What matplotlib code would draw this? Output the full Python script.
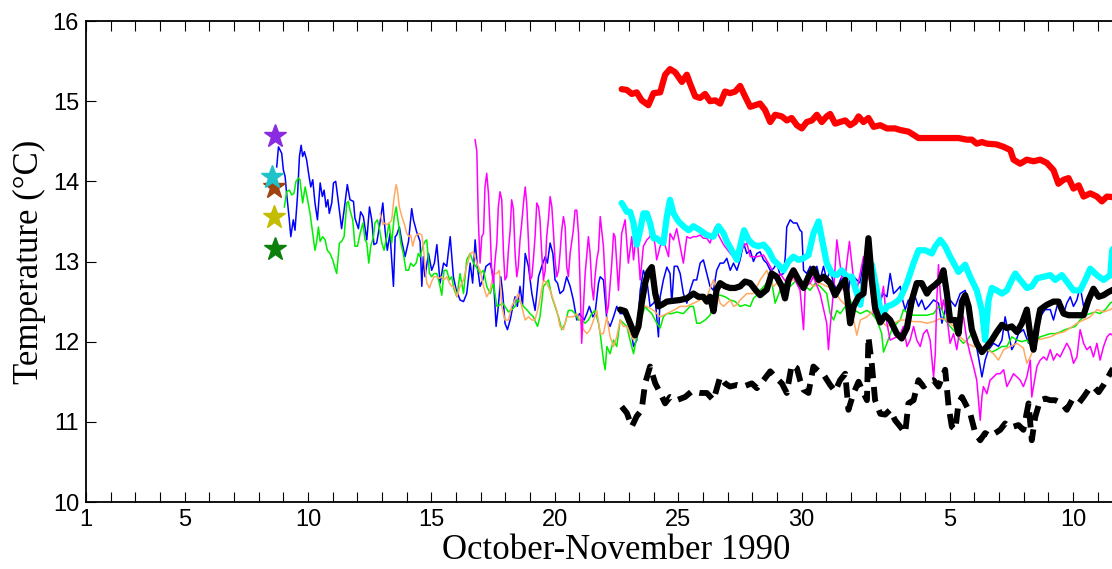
import numpy as np
import matplotlib.pyplot as plt

# thin records (day of Oct 1990, temperature degC)
blue = [(8.73, 14.18), (8.80, 14.43), (8.93, 14.35), (9.00, 14.14), (9.07, 14.06), (9.13, 13.85), (9.24, 13.52),
        (9.30, 13.31), (9.40, 13.52), (9.47, 13.39), (9.57, 13.81), (9.65, 14.31), (9.72, 14.45), (9.78, 14.31),
        (9.85, 14.37), (9.94, 14.27), (10.04, 14.06), (10.11, 13.93), (10.19, 14.02), (10.28, 13.73), (10.38, 13.52),
        (10.49, 13.98), (10.58, 13.81), (10.65, 13.89), (10.73, 13.68), (10.80, 13.77), (10.86, 13.60), (10.96, 13.73),
        (11.03, 13.98), (11.12, 14.00), (11.20, 13.81), (11.30, 13.56), (11.36, 13.41), (11.46, 13.64), (11.59, 13.96),
        (11.70, 13.77), (11.84, 13.75), (11.90, 13.54), (12.04, 13.41), (12.13, 13.62), (12.24, 13.56), (12.38, 13.27),
        (12.49, 13.68), (12.58, 13.52), (12.67, 13.21), (12.78, 13.23), (12.89, 13.43), (13.03, 13.73), (13.12, 13.39),
        (13.21, 13.14), (13.32, 13.35), (13.46, 12.69), (13.53, 13.31), (13.59, 13.33), (13.70, 13.43), (13.80, 13.25),
        (13.93, 13.06), (14.07, 13.25), (14.20, 13.66), (14.27, 13.52), (14.40, 13.37), (14.54, 13.25), (14.61, 12.69),
        (14.67, 13.06), (14.74, 12.81), (14.88, 13.10), (15.01, 12.89), (15.12, 12.98), (15.22, 13.21), (15.35, 12.73),
        (15.49, 12.98), (15.62, 12.94), (15.76, 13.31), (15.89, 12.81), (16.00, 12.65),
        (16.16, 12.52), (16.30, 12.50), (16.43, 12.60), (16.57, 12.98), (16.67, 12.73), (16.77, 13.27), (16.86, 12.94),
        (16.97, 12.69), (17.08, 12.77), (17.21, 12.94), (17.38, 12.98), (17.51, 12.81), (17.62, 12.19), (17.71, 12.44),
        (17.81, 12.81), (17.89, 12.60), (17.98, 12.23), (18.08, 12.15), (18.19, 12.27), (18.30, 12.44), (18.39, 12.56),
        (18.48, 12.44), (18.59, 12.69), (18.69, 12.46), (18.80, 13.10), (18.93, 12.94), (19.07, 12.60), (19.20, 12.39),
        (19.34, 12.81), (19.47, 12.94), (19.61, 13.06), (19.70, 12.98), (19.81, 13.23), (19.92, 13.10), (20.01, 12.77),
        (20.11, 12.73), (20.21, 12.60), (20.35, 12.64), (20.48, 12.81), (20.62, 12.69), (20.75, 12.52), (20.89, 12.27),
        (21.00, 12.35), (21.09, 12.31), (21.19, 12.27), (21.30, 12.35), (21.40, 12.44), (21.54, 12.31), (21.63, 12.35),
        (21.77, 12.73), (21.84, 12.81), (21.97, 12.77), (22.11, 12.27), (22.24, 12.19), (22.38, 12.31), (22.51, 12.44),
        (22.65, 12.35), (22.85, 12.35), (23.05, 12.23), (23.19, 11.94), (23.32, 12.02), (23.46, 12.64), (23.59, 12.89),
        (23.73, 12.77), (23.86, 12.44), (24.00, 12.48), (24.07, 12.52), (24.20, 12.06), (24.27, 12.56), (24.40, 12.77),
        (24.54, 12.93), (24.67, 12.85), (24.74, 12.48), (24.84, 12.94), (24.97, 12.94), (25.08, 12.85), (25.21, 12.60),
        (25.35, 12.48), (25.48, 12.64), (25.62, 12.77), (25.75, 12.77), (25.89, 12.98), (26.02, 13.02), (26.16, 12.85),
        (26.29, 12.69), (26.43, 12.64), (26.56, 12.89), (26.70, 12.98), (26.84, 12.98), (26.97, 13.04), (27.11, 12.89),
        (27.24, 12.98), (27.38, 12.89), (27.51, 13.02), (27.65, 13.23), (27.78, 13.10), (27.92, 13.14), (28.05, 13.00),
        (28.19, 13.10), (28.32, 13.12), (28.46, 13.02), (28.59, 12.98), (28.73, 12.89), (28.86, 12.91), (29.00, 12.98),
        (29.13, 12.83), (29.27, 12.85), (29.34, 13.06), (29.40, 13.43), (29.54, 13.52), (29.67, 13.48), (29.81, 13.48),
        (29.94, 13.39), (30.01, 13.37), (30.08, 12.89), (30.21, 12.85), (30.35, 12.94), (30.48, 12.85), (30.62, 12.94),
        (30.75, 12.77), (30.89, 12.94), (31.02, 12.77), (31.16, 12.89), (31.30, 12.73), (31.43, 12.64), (31.57, 12.77),
        (31.70, 12.85), (31.84, 12.52), (31.97, 12.77), (32.11, 12.81), (32.24, 12.77), (32.38, 12.73), (32.51, 13.02),
        (32.65, 13.06), (32.78, 12.98), (32.92, 12.94), (33.05, 12.69), (33.19, 12.52), (33.32, 12.60), (33.46, 12.56),
        (33.59, 12.85), (33.73, 12.60), (33.86, 12.64), (34.00, 12.69), (34.06, 12.56), (34.20, 12.40), (34.33, 12.52),
        (34.47, 12.40), (34.60, 12.56), (34.74, 12.44), (34.87, 12.52), (35.01, 12.40), (35.14, 12.44), (35.35, 12.52),
        (35.55, 12.48), (35.69, 12.23), (35.82, 12.40), (36.02, 12.52), (36.23, 12.44), (36.43, 12.60), (36.63, 12.64),
        (36.77, 12.48), (36.90, 12.27), (37.04, 12.02), (37.17, 11.81), (37.31, 11.56), (37.44, 11.77), (37.58, 11.90),
        (37.78, 11.98), (37.98, 11.94), (38.12, 12.02), (38.25, 12.31), (38.39, 12.10), (38.52, 11.90), (38.66, 11.98),
        (38.79, 12.10), (38.99, 12.15), (39.20, 11.98), (39.40, 12.10), (39.54, 12.27), (39.67, 12.31), (39.87, 12.40),
        (40.08, 12.40), (40.21, 12.27), (40.35, 12.44), (40.48, 12.52), (40.62, 12.35), (40.75, 12.48), (40.89, 12.56),
        (41.02, 12.44), (41.16, 12.52), (41.29, 12.69), (41.43, 12.44), (41.56, 12.52), (41.70, 12.56), (41.90, 12.64),
        (42.10, 12.56), (42.31, 12.60), (42.51, 12.62), (42.70, 12.60)]

green = [(9.04, 13.68), (9.13, 13.87), (9.24, 13.89), (9.34, 13.83), (9.43, 13.85), (9.51, 14.00), (9.61, 14.04),
         (9.67, 14.02), (9.78, 13.73), (9.88, 13.93), (9.97, 13.79), (10.08, 13.60), (10.19, 13.35), (10.28, 13.14),
         (10.35, 13.25), (10.42, 13.43), (10.49, 13.25), (10.59, 13.31), (10.69, 13.27), (10.78, 13.14), (10.89, 13.10),
         (11.00, 13.02), (11.09, 12.92), (11.16, 12.85), (11.27, 13.23), (11.36, 13.25), (11.46, 13.31), (11.57, 13.73),
         (11.63, 13.75), (11.70, 13.64), (11.81, 13.52), (11.90, 13.19), (12.00, 13.19), (12.11, 13.35), (12.22, 13.48),
         (12.31, 13.27), (12.38, 13.23), (12.46, 12.98), (12.54, 13.19), (12.65, 13.31), (12.71, 13.48), (12.81, 13.52),
         (12.89, 13.41), (12.99, 13.23), (13.08, 13.14), (13.19, 13.31), (13.28, 13.48), (13.39, 13.23), (13.49, 13.56),
         (13.57, 13.68), (13.66, 13.48), (13.76, 13.23), (13.86, 13.10), (13.97, 12.89), (14.07, 12.89), (14.16, 12.98),
         (14.27, 12.94), (14.38, 12.98), (14.47, 13.10), (14.54, 13.06), (14.65, 13.19), (14.74, 13.25), (14.81, 13.27),
         (14.92, 12.85), (15.01, 12.81), (15.11, 12.85), (15.22, 12.85), (15.32, 12.73), (15.42, 12.58), (15.51, 12.89),
         (15.62, 12.89), (15.73, 12.77), (15.82, 12.81), (15.92, 12.65), (16.03, 12.56),
         (16.16, 12.85), (16.30, 12.60), (16.43, 13.02), (16.57, 13.10), (16.70, 12.98), (16.84, 12.92), (16.97, 12.85),
         (17.11, 12.89), (17.24, 12.69), (17.38, 12.60), (17.51, 12.73), (17.65, 12.44), (17.78, 12.46), (17.89, 12.48),
         (17.98, 12.44), (18.12, 12.37), (18.25, 12.40), (18.39, 12.44), (18.48, 12.52), (18.59, 12.50), (18.73, 12.44),
         (18.86, 12.40), (19.00, 12.35), (19.13, 12.31), (19.30, 12.19), (19.40, 12.31), (19.54, 12.69), (19.65, 12.73),
         (19.74, 12.77), (19.88, 12.56), (20.01, 12.44), (20.15, 12.31), (20.28, 12.15), (20.42, 12.23), (20.55, 12.39),
         (20.69, 12.39), (20.82, 12.35), (20.96, 12.27), (21.09, 12.27), (21.23, 12.23), (21.36, 12.27), (21.50, 12.35),
         (21.63, 12.39), (21.77, 12.23), (21.84, 12.10), (21.97, 11.77), (22.04, 11.65), (22.11, 11.94), (22.24, 11.85),
         (22.38, 12.02), (22.51, 11.94), (22.65, 12.27), (22.78, 12.23), (22.92, 12.19), (23.05, 12.02), (23.19, 11.85),
         (23.32, 12.06), (23.46, 12.27), (23.66, 12.44), (23.79, 12.39), (23.93, 12.35), (24.13, 12.23), (24.27, 12.17),
         (24.40, 12.31), (24.54, 12.35), (24.74, 12.35), (24.94, 12.37), (25.21, 12.35), (25.48, 12.44), (25.62, 12.44),
         (25.75, 12.23), (25.89, 12.23), (26.09, 12.27), (26.29, 12.33), (26.50, 12.56), (26.70, 12.58), (26.90, 12.56),
         (27.11, 12.52), (27.31, 12.50), (27.51, 12.44), (27.71, 12.46), (27.92, 12.44), (28.05, 12.54), (28.19, 12.58),
         (28.32, 12.64), (28.59, 12.73), (28.79, 12.75), (28.93, 12.48), (29.13, 12.64), (29.34, 12.73), (29.54, 12.69),
         (29.74, 12.75), (29.94, 12.77), (30.15, 12.69), (30.35, 12.64), (30.55, 12.73), (30.75, 12.69), (31.02, 12.60),
         (31.16, 12.35), (31.30, 12.27), (31.43, 12.39), (31.57, 12.35), (31.77, 12.44), (31.97, 12.52), (32.17, 12.39),
         (32.38, 12.35), (32.65, 12.39), (32.85, 12.35), (33.05, 12.27), (33.25, 12.10), (33.32, 11.87), (33.46, 11.98),
         (33.66, 12.15), (33.86, 12.23), (34.00, 12.27), (34.13, 12.40), (34.33, 12.35), (34.54, 12.33), (34.81, 12.33),
         (35.08, 12.33), (35.35, 12.35), (35.55, 12.44), (35.69, 12.40), (35.82, 12.27), (36.02, 12.19), (36.23, 12.12),
         (36.43, 12.02), (36.56, 11.98), (36.70, 12.02), (36.90, 12.10), (37.10, 11.98), (37.31, 11.90), (37.51, 11.92),
         (37.71, 11.87), (37.91, 11.90), (38.12, 11.94), (38.32, 11.94), (38.52, 12.06), (38.73, 12.02), (38.93, 12.00),
         (39.13, 12.02), (39.33, 11.94), (39.54, 12.02), (39.67, 12.06), (39.87, 12.08), (40.08, 12.10), (40.28, 12.10),
         (40.48, 12.12), (40.68, 12.15), (40.89, 12.17), (41.09, 12.19), (41.29, 12.27), (41.50, 12.33), (41.70, 12.35),
         (41.90, 12.37), (42.10, 12.35), (42.31, 12.40), (42.51, 12.48), (42.70, 12.52)]

orange = [(12.92, 13.60), (13.03, 13.46), (13.12, 13.48), (13.19, 13.46), (13.30, 13.48), (13.39, 13.52), (13.49, 13.81),
          (13.57, 13.96), (13.62, 13.89), (13.70, 13.68), (13.80, 13.56), (13.89, 13.48), (14.00, 13.35), (14.09, 13.31),
          (14.16, 13.33), (14.24, 13.19), (14.34, 13.31), (14.40, 13.33), (14.50, 13.35), (14.61, 13.33), (14.67, 13.19),
          (14.74, 12.94), (14.81, 12.73), (14.92, 12.67), (15.01, 12.75), (15.11, 12.81), (15.22, 12.81), (15.32, 12.79),
          (15.42, 12.81), (15.51, 12.77), (15.62, 12.81), (15.73, 12.73), (15.82, 12.69), (15.92, 12.69), (16.03, 12.56),
          (16.16, 12.69), (16.30, 12.77), (16.43, 12.94), (16.57, 13.10), (16.70, 13.12), (16.84, 12.98), (16.97, 12.89),
          (17.11, 12.69), (17.24, 12.56), (17.38, 12.64), (17.51, 12.85), (17.65, 12.85), (17.75, 12.89), (17.85, 12.44),
          (17.98, 12.27), (18.12, 12.27), (18.25, 12.44), (18.39, 12.52), (18.52, 12.60), (18.66, 12.44), (18.80, 12.27),
          (18.93, 12.31), (19.07, 12.27), (19.20, 12.27), (19.34, 12.44), (19.54, 12.77), (19.67, 12.73), (19.81, 12.64),
          (19.94, 12.52), (20.08, 12.39), (20.21, 12.19), (20.35, 12.15), (20.48, 12.31), (20.62, 12.31), (20.75, 12.31),
          (20.89, 12.35), (21.02, 12.27), (21.16, 12.15), (21.30, 12.10), (21.43, 12.15), (21.57, 12.27), (21.70, 12.39),
          (21.84, 12.10), (21.97, 12.10), (22.11, 12.31), (22.24, 12.06), (22.38, 11.94), (22.51, 12.06), (22.65, 12.27),
          (22.78, 12.19), (22.92, 12.19), (23.05, 12.10), (23.19, 12.02), (23.32, 12.10), (23.46, 12.44), (23.73, 12.44),
          (24.00, 12.39), (24.27, 12.31), (24.54, 12.35), (24.81, 12.39), (25.08, 12.44), (25.35, 12.44), (25.62, 12.48),
          (25.89, 12.52), (26.16, 12.56), (26.43, 12.77), (26.56, 12.64), (26.70, 12.48), (26.84, 12.44), (26.97, 12.48),
          (27.11, 12.52), (27.24, 12.44), (27.38, 12.46), (27.51, 12.52), (27.78, 12.60), (28.05, 12.60), (28.32, 12.77),
          (28.46, 12.83), (28.59, 12.89), (28.73, 12.77), (28.86, 12.69), (29.00, 12.73), (29.20, 12.69), (29.40, 12.65),
          (29.60, 12.77), (29.81, 12.77), (30.01, 12.73), (30.21, 12.77), (30.48, 12.69), (30.75, 12.73), (31.02, 12.69),
          (31.30, 12.65), (31.57, 12.52), (31.84, 12.44), (32.11, 12.27), (32.24, 12.08), (32.38, 12.27), (32.65, 12.31),
          (32.92, 12.39), (33.19, 12.27), (33.46, 12.19), (33.73, 12.23), (34.00, 12.27), (34.27, 12.27), (34.54, 12.25),
          (34.81, 12.25), (35.08, 12.23), (35.35, 12.25), (35.62, 12.29), (35.89, 12.27), (36.16, 12.19), (36.43, 12.06),
          (36.70, 11.98), (36.97, 11.94), (37.24, 11.92), (37.51, 11.90), (37.78, 11.85), (37.98, 11.77), (38.19, 11.90),
          (38.46, 11.94), (38.73, 11.98), (38.99, 11.92), (39.13, 11.73), (39.27, 11.81), (39.54, 12.02), (39.81, 12.04),
          (40.08, 12.06), (40.35, 12.10), (40.62, 12.12), (40.89, 12.17), (41.16, 12.23), (41.43, 12.27), (41.70, 12.31),
          (41.97, 12.40), (42.24, 12.37), (42.51, 12.40), (42.70, 12.44)]

magenta = [(16.77, 14.52), (16.84, 14.37), (16.90, 13.52), (16.97, 12.98), (17.04, 13.31), (17.11, 13.35), (17.17, 13.93),
           (17.24, 14.10), (17.31, 13.85), (17.38, 13.39), (17.44, 12.89), (17.51, 12.73), (17.58, 13.02), (17.65, 13.23),
           (17.71, 13.68), (17.78, 13.87), (17.85, 13.77), (17.92, 13.10), (17.98, 12.77), (18.05, 12.81), (18.12, 13.14),
           (18.19, 13.39), (18.25, 13.77), (18.32, 13.66), (18.39, 13.10), (18.46, 12.81), (18.52, 12.94), (18.59, 13.27),
           (18.66, 13.48), (18.73, 13.73), (18.80, 13.93), (18.86, 13.73), (18.93, 13.27), (19.00, 12.77), (19.07, 12.81),
           (19.13, 13.02), (19.20, 13.31), (19.27, 13.73), (19.34, 13.68), (19.40, 13.52), (19.47, 13.10), (19.54, 12.77),
           (19.61, 12.89), (19.67, 13.31), (19.74, 13.52), (19.81, 13.81), (19.88, 13.68), (19.94, 13.39), (20.01, 13.02),
           (20.08, 12.81), (20.15, 12.89), (20.21, 13.10), (20.28, 13.39), (20.35, 13.56), (20.42, 13.43), (20.48, 12.94),
           (20.55, 12.81), (20.62, 13.10), (20.75, 13.39), (20.82, 13.64), (20.89, 13.64), (20.96, 13.35), (21.02, 12.77),
           (21.09, 11.98), (21.16, 12.44), (21.23, 12.85), (21.30, 13.10), (21.36, 13.31), (21.43, 13.10), (21.50, 12.69),
           (21.57, 12.52), (21.63, 12.81), (21.70, 13.02), (21.77, 13.14), (21.84, 13.56), (21.97, 13.19), (22.11, 12.35),
           (22.17, 12.44), (22.31, 12.98), (22.38, 13.35), (22.44, 13.31), (22.58, 12.64), (22.71, 13.35), (22.85, 13.52),
           (22.98, 12.98), (23.12, 13.31), (23.19, 13.02), (23.32, 13.39), (23.46, 12.77), (23.59, 13.19), (23.73, 13.27),
           (23.86, 13.31), (23.93, 13.43), (24.07, 13.19), (24.13, 13.02), (24.27, 13.19), (24.40, 13.27), (24.61, 13.06),
           (24.67, 13.35), (24.81, 13.27), (24.94, 13.41), (25.08, 13.19), (25.21, 12.98), (25.35, 13.31), (25.48, 13.29),
           (25.62, 13.31), (25.75, 13.31), (25.89, 13.33), (26.02, 13.29), (26.16, 13.29), (26.29, 13.23), (26.50, 13.43),
           (26.63, 13.33), (26.84, 13.21), (27.11, 13.10), (27.38, 13.02), (27.65, 13.19), (27.78, 13.23), (27.92, 13.06),
           (28.19, 13.06), (28.46, 13.08), (28.73, 12.94), (29.00, 12.77), (29.13, 12.85), (29.40, 12.73), (29.67, 12.81),
           (29.94, 12.64), (30.08, 12.15), (30.15, 12.69), (30.35, 12.73), (30.48, 12.81), (30.75, 12.60), (31.02, 12.23),
           (31.09, 11.90), (31.16, 12.19), (31.30, 12.64), (31.43, 13.27), (31.57, 12.94), (31.70, 12.64), (31.94, 13.25),
           (32.11, 12.77), (32.24, 12.64), (32.51, 13.06), (32.78, 12.73), (32.92, 12.35), (33.19, 12.48), (33.32, 12.69),
           (33.46, 12.23), (33.59, 12.02), (33.86, 12.06), (34.00, 12.10), (34.13, 12.19), (34.27, 11.94), (34.40, 12.02),
           (34.54, 12.19), (34.67, 12.02), (34.81, 11.94), (34.94, 12.10), (35.08, 12.15), (35.21, 12.02), (35.35, 11.56),
           (35.42, 11.85), (35.48, 12.52), (35.55, 12.96), (35.62, 12.60), (35.69, 12.40), (35.75, 12.52), (35.89, 12.31),
           (36.02, 11.98), (36.16, 12.10), (36.29, 11.90), (36.43, 12.19), (36.56, 12.31), (36.70, 12.02), (36.83, 11.85),
           (36.97, 11.69), (37.10, 11.52), (37.24, 11.02), (37.31, 11.31), (37.37, 11.44), (37.51, 11.35), (37.64, 11.52),
           (37.78, 11.56), (37.91, 11.60), (38.05, 11.60), (38.19, 11.65), (38.32, 11.44), (38.46, 11.52), (38.59, 11.60),
           (38.73, 11.56), (38.86, 11.52), (38.99, 11.44), (39.13, 11.56), (39.27, 11.77), (39.33, 11.31), (39.40, 11.44),
           (39.54, 11.69), (39.67, 11.77), (39.81, 11.81), (39.94, 11.77), (40.08, 11.90), (40.21, 11.77), (40.35, 11.85),
           (40.48, 11.81), (40.62, 11.90), (40.75, 11.98), (40.89, 11.90), (41.02, 11.73), (41.16, 11.81), (41.29, 12.15),
           (41.43, 11.98), (41.56, 11.90), (41.70, 11.94), (41.83, 11.81), (41.97, 11.98), (42.10, 11.77), (42.24, 11.94),
           (42.38, 12.06), (42.51, 12.10), (42.70, 12.06)]

# thick records
red = [(22.71, 15.15), (22.92, 15.14), (23.12, 15.09), (23.32, 15.11), (23.52, 15.01), (23.79, 14.95), (24.00, 15.10),
       (24.27, 15.11), (24.47, 15.33), (24.67, 15.40), (24.88, 15.36), (25.15, 15.24), (25.35, 15.33), (25.48, 15.22),
       (25.69, 15.06), (25.89, 15.04), (26.09, 15.09), (26.29, 15.00), (26.50, 15.01), (26.70, 14.97), (26.90, 15.12),
       (27.10, 15.10), (27.31, 15.12), (27.51, 15.19), (27.71, 15.06), (27.92, 14.93), (28.12, 14.95), (28.32, 14.97),
       (28.52, 14.89), (28.73, 14.74), (28.93, 14.83), (29.20, 14.81), (29.40, 14.76), (29.60, 14.79), (29.81, 14.70),
       (30.01, 14.66), (30.21, 14.74), (30.42, 14.76), (30.62, 14.83), (30.82, 14.74), (31.02, 14.81), (31.16, 14.84),
       (31.36, 14.72), (31.56, 14.74), (31.77, 14.76), (31.97, 14.70), (32.17, 14.74), (32.31, 14.81), (32.51, 14.74),
       (32.71, 14.79), (32.92, 14.68), (33.19, 14.70), (33.46, 14.66), (33.79, 14.66), (34.00, 14.64), (34.33, 14.62),
       (34.54, 14.58), (34.74, 14.54), (35.21, 14.54), (35.89, 14.54), (36.36, 14.54), (36.70, 14.52), (36.90, 14.52),
       (37.10, 14.47), (37.31, 14.49), (37.51, 14.47), (37.91, 14.46), (38.19, 14.43), (38.46, 14.39), (38.59, 14.27),
       (38.86, 14.22), (39.13, 14.27), (39.40, 14.25), (39.67, 14.27), (39.94, 14.23), (40.21, 14.14), (40.41, 13.97),
       (40.62, 14.02), (40.82, 14.04), (41.02, 13.91), (41.23, 13.95), (41.43, 13.81), (41.70, 13.85), (41.97, 13.81),
       (42.17, 13.75), (42.38, 13.81), (42.70, 13.80)]

cyan = [(22.71, 13.73), (22.92, 13.62), (23.05, 13.62), (23.19, 13.48), (23.32, 13.21), (23.46, 13.39), (23.59, 13.60),
        (23.73, 13.60), (23.86, 13.48), (24.00, 13.29), (24.13, 13.29), (24.27, 13.25), (24.40, 13.23), (24.54, 13.56),
        (24.67, 13.77), (24.81, 13.60), (25.01, 13.50), (25.21, 13.44), (25.42, 13.39), (25.62, 13.44), (25.89, 13.39),
        (26.16, 13.33), (26.43, 13.31), (26.63, 13.44), (26.84, 13.35), (26.97, 13.25), (27.17, 13.14), (27.38, 13.02),
        (27.51, 13.19), (27.67, 13.39), (27.85, 13.27), (28.05, 13.21), (28.25, 13.19), (28.46, 13.21), (28.66, 13.14),
        (28.86, 13.02), (29.06, 12.96), (29.27, 12.89), (29.47, 13.00), (29.67, 13.06), (29.88, 13.02), (30.08, 13.04),
        (30.28, 13.08), (30.48, 13.35), (30.69, 13.50), (30.82, 13.29), (31.02, 12.98), (31.23, 12.85), (31.43, 12.83),
        (31.63, 12.89), (31.84, 12.81), (32.04, 12.81), (32.24, 12.60), (32.38, 12.46), (32.51, 12.73), (32.65, 12.92),
        (32.85, 12.96), (33.05, 12.64), (33.25, 12.31), (33.46, 12.44), (33.66, 12.46), (33.86, 12.50), (34.00, 12.54),
        (34.27, 12.73), (34.54, 12.98), (34.74, 13.14), (35.01, 13.14), (35.28, 13.10), (35.42, 13.19), (35.62, 13.27),
        (35.82, 13.19), (36.02, 13.06), (36.36, 12.87), (36.63, 12.96), (36.83, 12.81), (37.10, 12.64), (37.31, 12.39),
        (37.44, 12.02), (37.58, 12.52), (37.71, 12.67), (37.91, 12.64), (38.12, 12.60), (38.32, 12.64), (38.52, 12.77),
        (38.66, 12.85), (38.86, 12.77), (39.13, 12.67), (39.33, 12.69), (39.54, 12.79), (39.81, 12.81), (40.08, 12.83),
        (40.28, 12.77), (40.55, 12.83), (40.75, 12.75), (41.02, 12.64), (41.29, 12.64), (41.50, 12.77), (41.70, 12.91),
        (41.97, 12.83), (42.24, 12.77), (42.51, 12.83), (42.59, 13.14), (42.70, 13.20)]

black = [(22.65, 12.40), (22.85, 12.38), (23.05, 12.23), (23.25, 12.08), (23.39, 12.19), (23.52, 12.48), (23.66, 12.73),
         (23.79, 12.87), (23.93, 12.93), (24.07, 12.60), (24.20, 12.44), (24.34, 12.46), (24.54, 12.50), (24.81, 12.51),
         (25.08, 12.52), (25.35, 12.54), (25.62, 12.60), (25.82, 12.56), (26.02, 12.56), (26.16, 12.50), (26.29, 12.56),
         (26.43, 12.38), (26.56, 12.65), (26.70, 12.73), (26.90, 12.69), (27.10, 12.67), (27.31, 12.67), (27.51, 12.69),
         (27.71, 12.75), (27.92, 12.73), (28.12, 12.65), (28.32, 12.58), (28.59, 12.65), (28.79, 12.85), (28.99, 12.81),
         (29.20, 12.69), (29.33, 12.54), (29.47, 12.77), (29.67, 12.89), (29.88, 12.77), (30.08, 12.67), (30.28, 12.81),
         (30.48, 12.91), (30.69, 12.77), (30.89, 12.81), (31.16, 12.73), (31.36, 12.58), (31.56, 12.69), (31.77, 12.77),
         (31.97, 12.23), (32.11, 12.44), (32.31, 12.56), (32.51, 12.60), (32.71, 13.29), (32.85, 12.77), (32.98, 12.42),
         (33.19, 12.24), (33.39, 12.33), (33.59, 12.27), (33.86, 12.10), (34.06, 12.04), (34.27, 12.17), (34.47, 12.52),
         (34.67, 12.73), (34.87, 12.73), (35.08, 12.60), (35.21, 12.66), (35.42, 12.71), (35.62, 12.77), (35.75, 12.89),
         (35.89, 12.60), (36.02, 12.27), (36.23, 12.27), (36.36, 12.10), (36.50, 12.50), (36.63, 12.58), (36.77, 12.44),
         (36.90, 12.15), (37.10, 11.98), (37.31, 11.87), (37.51, 11.94), (37.71, 12.02), (37.91, 12.12), (38.12, 12.21),
         (38.32, 12.17), (38.52, 12.19), (38.73, 12.12), (38.93, 12.23), (39.13, 12.40), (39.27, 12.08), (39.40, 11.90),
         (39.54, 12.19), (39.67, 12.40), (39.94, 12.46), (40.21, 12.50), (40.41, 12.50), (40.62, 12.35), (40.82, 12.33),
         (41.16, 12.33), (41.43, 12.33), (41.63, 12.52), (41.83, 12.66), (42.04, 12.56), (42.24, 12.58), (42.44, 12.62),
         (42.70, 12.66)]

black_dash = [(22.71, 11.19), (22.92, 11.11), (23.12, 10.94), (23.32, 11.07), (23.52, 11.15), (23.66, 11.48),
              (23.86, 11.69), (24.07, 11.48), (24.27, 11.36), (24.47, 11.23), (24.67, 11.31), (24.94, 11.27),
              (25.28, 11.31), (25.55, 11.38), (25.89, 11.36), (26.16, 11.36), (26.43, 11.27), (26.70, 11.56),
              (26.90, 11.48), (27.10, 11.44), (27.38, 11.46), (27.65, 11.44), (27.98, 11.48), (28.19, 11.42),
              (28.46, 11.52), (28.73, 11.63), (28.93, 11.56), (29.20, 11.48), (29.40, 11.36), (29.60, 11.71),
              (29.81, 11.67), (29.94, 11.52), (30.08, 11.40), (30.28, 11.36), (30.48, 11.69), (30.69, 11.63),
              (30.89, 11.59), (31.16, 11.46), (31.36, 11.38), (31.56, 11.52), (31.77, 11.60), (31.90, 11.15),
              (32.11, 11.36), (32.31, 11.50), (32.51, 11.36), (32.65, 11.27), (32.71, 12.06), (32.85, 11.71),
              (32.98, 11.27), (33.19, 11.10), (33.39, 11.09), (33.59, 11.15), (33.79, 11.02), (34.00, 10.94),
              (34.20, 10.86), (34.33, 11.23), (34.54, 11.27), (34.74, 11.52), (34.94, 11.44), (35.14, 11.50),
              (35.35, 11.52), (35.55, 11.44), (35.82, 11.65), (35.96, 11.19), (36.09, 10.94), (36.23, 10.90),
              (36.36, 11.23), (36.50, 11.31), (36.70, 11.19), (36.83, 11.11), (37.04, 10.86), (37.24, 10.77),
              (37.44, 10.86), (37.64, 10.82), (37.85, 10.86), (38.05, 10.90), (38.25, 10.98), (38.39, 10.94),
              (38.59, 10.94), (38.79, 10.96), (38.99, 10.90), (39.20, 11.23), (39.33, 10.77), (39.47, 11.06),
              (39.67, 11.27), (39.88, 11.29), (40.08, 11.27), (40.28, 11.27), (40.55, 11.23), (40.75, 11.15),
              (40.96, 11.27), (41.23, 11.23), (41.43, 11.31), (41.63, 11.40), (41.83, 11.44), (42.04, 11.37),
              (42.24, 11.46), (42.59, 11.65), (42.70, 11.68)]

# stars (start values)
star_day = [8.66, 8.63, 8.55, 8.60, 8.66]
star_temp = [14.57, 13.93, 14.05, 13.55, 13.16]
star_color = ['#8a2be2', '#a0420e', '#1fc2c8', '#c4bc00', '#0a800a']

tick_pos = [1, 5, 10, 15, 20, 25, 30, 36, 41]
tick_lab = ['1', '5', '10', '15', '20', '25', '30', '5', '10']

W, H = 1112, 569
fig = plt.figure(figsize=(W / 100, H / 100), dpi=100)
ax = fig.add_axes([86 / W, 67 / H, 1061 / W, 481 / H])


def draw(rec, **kw):
    d = np.array(rec)
    ax.plot(d[:, 0], d[:, 1], **kw)


draw(blue, color='#0000ff', lw=1.1)
draw(green, color='#00ee00', lw=1.1)
draw(orange, color='#ffaa60', lw=1.1)
draw(magenta, color='#ff00ff', lw=1.1)
draw(red, color='#ff0000', lw=4.5, solid_joinstyle='round', solid_capstyle='round')
draw(cyan, color='#00ffff', lw=4.5, solid_joinstyle='round', solid_capstyle='round')
draw(black_dash, color='black', lw=4.2, linestyle=(0, (2.6, 1.5)), dash_capstyle='butt')
draw(black, color='black', lw=4.5, solid_joinstyle='round', solid_capstyle='round')

for d, t, c in zip(star_day, star_temp, star_color):
    ax.plot(d, t, marker='*', ms=17, color=c, mec=c, ls='none')

ax.set_xlim(1, 44)
ax.set_ylim(10, 16)
ax.set_xticks(range(1, 45), minor=True)
ax.set_xticks(tick_pos)
ax.set_xticklabels(tick_lab)
ax.set_yticks(range(10, 17))
ax.tick_params(which='both', direction='in', top=True, right=True, length=7, width=0.8,
               labelsize=17, pad=5)
for lab in ax.get_xticklabels() + ax.get_yticklabels():
    lab.set_family('Liberation Sans')
for s in ax.spines.values():
    s.set_linewidth(1.3)

ax.set_xlabel('October-November 1990', family='Liberation Serif', fontsize=25, labelpad=2)
ax.set_ylabel('Temperature (°C)', family='Liberation Serif', fontsize=25, labelpad=5)

fig.savefig('out.png', dpi=100)
